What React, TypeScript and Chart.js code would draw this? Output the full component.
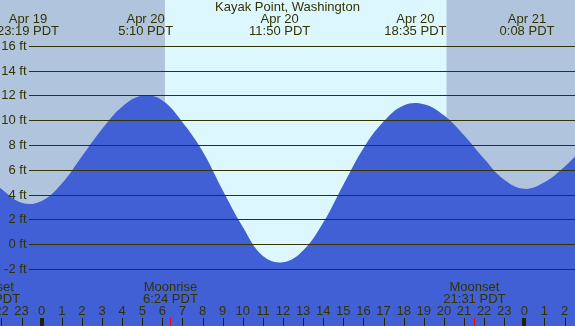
import React, { useEffect, useRef } from "react";
import { Chart, registerables } from "chart.js";

Chart.register(...registerables);

// Hourly tide heights (ft), hours relative to Apr 20 00:00 PDT
const tideHours = [-3, -2, -1, 0, 1, 2, 3, 4, 5, 6, 7, 8, 9, 10, 11, 12, 13, 14, 15, 16, 17, 18, 19, 20, 21, 22, 23, 24, 25, 26, 27];
const tideFeet = [5.8, 4.45, 3.35, 3.5, 4.9, 7.1, 9.3, 11.1, 11.98, 11.6, 9.85, 7.5, 4.35, 1.4, -0.95, -1.45, -0.5, 1.75, 4.8, 7.75, 9.9, 11.2, 11.3, 10.4, 8.8, 6.9, 5.2, 4.47, 5.0, 6.25, 7.9];

const extremeHours = [-0.683, 5.167, 11.833, 18.583, 24.133];
const extremeDates = ["Apr 19", "Apr 20", "Apr 20", "Apr 20", "Apr 21"];
const extremeTimes = ["23:19 PDT", "5:10 PDT", "11:50 PDT", "18:35 PDT", "0:08 PDT"];

const moonHours = [-2.62, 6.4, 21.517];
const moonNames = ["Moonset", "Moonrise", "Moonset"];
const moonTimes = ["21:23 PDT", "6:24 PDT", "21:31 PDT"];

const sunriseHour = 6.13;
const sunsetHour = 20.13;

const yTicks = [-2, 0, 2, 4, 6, 8, 10, 12, 14, 16];
const hourTicks = [-2, -1, 0, 1, 2, 3, 4, 5, 6, 7, 8, 9, 10, 11, 12, 13, 14, 15, 16, 17, 18, 19, 20, 21, 22, 23, 24, 25, 26];

const title = "Kayak Point, Washington";

const X_MIN = -2.074;
const X_MAX = 26.52;
const Y_MIN = -6.59;
const Y_MAX = 19.7;

const FONT = "13px 'Liberation Sans', Arial, sans-serif";
const TEXT = "#333300";

const tidePlugin = {
  id: "tideDecor",
  beforeDatasetsDraw(chart: any) {
    const { ctx, chartArea, scales } = chart;
    const xs = scales.x;
    ctx.save();
    ctx.fillStyle = "#b0c4de";
    ctx.fillRect(chartArea.left, chartArea.top, chartArea.right - chartArea.left, chartArea.bottom - chartArea.top);
    const x1 = xs.getPixelForValue(sunriseHour);
    const x2 = xs.getPixelForValue(sunsetHour);
    ctx.fillStyle = "#ddf7ff";
    ctx.fillRect(x1, chartArea.top, x2 - x1, chartArea.bottom - chartArea.top);
    ctx.restore();
  },
  afterDatasetsDraw(chart: any) {
    const { ctx, chartArea, scales } = chart;
    const xs = scales.x;
    const ys = scales.y;
    ctx.save();
    ctx.font = FONT;
    ctx.textBaseline = "middle";
    yTicks.forEach((v) => {
      const y = Math.round(ys.getPixelForValue(v)) + 0.5;
      ctx.strokeStyle = "#333300";
      ctx.lineWidth = 1;
      ctx.beginPath();
      ctx.moveTo(29, y);
      ctx.lineTo(chartArea.right, y);
      ctx.stroke();
      ctx.fillStyle = TEXT;
      ctx.textAlign = "right";
      ctx.fillText(`${v} ft`, 26.5, y);
    });
    ctx.textAlign = "center";
    ctx.fillStyle = TEXT;
    ctx.fillText(title, (chartArea.left + chartArea.right) / 2, 7.5);
    extremeHours.forEach((h, i) => {
      const x = xs.getPixelForValue(h);
      ctx.fillText(extremeDates[i], x, 19.5);
      ctx.fillText(extremeTimes[i], x, 31.5);
    });
    moonHours.forEach((h, i) => {
      const x = xs.getPixelForValue(h);
      ctx.fillStyle = TEXT;
      ctx.fillText(moonNames[i], x, 287.5);
      ctx.fillText(moonTimes[i], x, 299.5);
      ctx.fillStyle = "#ff0000";
      ctx.fillRect(Math.round(x), 318, 1, 8);
    });
    hourTicks.forEach((h) => {
      const x = xs.getPixelForValue(h);
      const lbl = ((h % 24) + 24) % 24;
      ctx.fillStyle = TEXT;
      ctx.fillText(String(lbl), x, 311.5);
      ctx.fillStyle = "#222200";
      if (lbl === 0) ctx.fillRect(Math.round(x) - 2, 318, 4, 8);
      else ctx.fillRect(Math.round(x), 318, 1, 8);
    });
    ctx.restore();
  },
};

export default function App() {
  const ref = useRef<HTMLCanvasElement | null>(null);
  useEffect(() => {
    if (!ref.current) return;
    const chart = new Chart(ref.current, {
      type: "line",
      data: {
        datasets: [
          {
            data: tideHours.map((h, i) => ({ x: h, y: tideFeet[i] })),
            borderWidth: 0,
            borderColor: "rgba(0,0,0,0)",
            backgroundColor: "#4160d5",
            fill: "start",
            pointRadius: 0,
            tension: 0.4,
          },
        ],
      },
      options: {
        animation: false,
        responsive: true,
        maintainAspectRatio: false,
        devicePixelRatio: 1,
        layout: { padding: 0 },
        plugins: { legend: { display: false }, tooltip: { enabled: false }, title: { display: false } },
        scales: {
          x: { type: "linear", min: X_MIN, max: X_MAX, display: false },
          y: { type: "linear", min: Y_MIN, max: Y_MAX, display: false },
        },
      },
      plugins: [tidePlugin],
    });
    return () => chart.destroy();
  }, []);
  return (
    <div style={{ position: "fixed", left: 0, top: 0, width: 575, height: 326 }}>
      <canvas ref={ref} />
    </div>
  );
}
